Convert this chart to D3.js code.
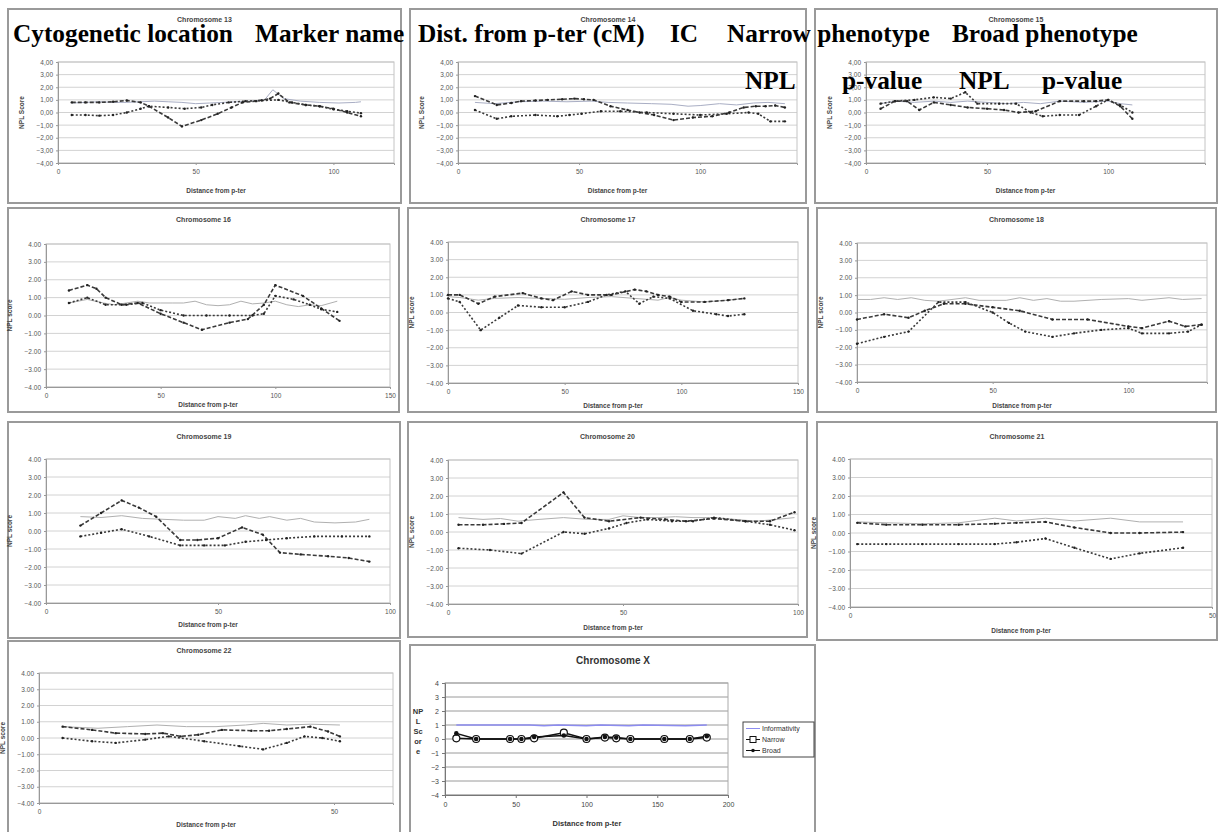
<!DOCTYPE html>
<html>
<head>
<meta charset="utf-8">
<script src="https://cdn.jsdelivr.net/npm/d3@7"></script>
<style>
  body { margin: 0; background: #fff; }
  svg { display: block; }
</style>
</head>
<body>
<div id="chart"></div>
<script>
// values: [distance from p-ter, NPL score]
const chr13Info   = [[5,0.75],[10,0.8],[15,0.85],[20,0.8],[25,0.8],[30,0.85],[35,0.9],[40,0.85],[45,0.8],[50,0.7],[55,0.75],[60,0.8],[65,0.85],[70,0.9],[75,1.0],[78,1.8],[82,1.1],[88,0.9],[95,0.8],[102,0.75],[108,0.8],[110,0.85]];
const chr13Narrow = [[5,0.8],[10,0.8],[15,0.8],[20,0.85],[25,0.95],[30,0.8],[33,0.5],[40,-0.4],[45,-1.1],[52,-0.6],[58,-0.1],[63,0.4],[67,0.8],[72,0.9],[77,1.1],[80,1.5],[84,0.8],[90,0.6],[95,0.5],[100,0.3],[105,0.0],[110,-0.3]];
const chr13Broad  = [[5,-0.2],[10,-0.2],[15,-0.25],[20,-0.2],[25,0.0],[30,0.3],[33,0.5],[40,0.4],[46,0.3],[52,0.4],[56,0.6],[62,0.8],[68,0.9],[74,0.95],[80,1.0],[85,0.8],[90,0.6],[95,0.5],[100,0.25],[105,0.1],[110,-0.05]];

const chr14Info   = [[7,0.8],[15,0.7],[25,0.85],[35,0.9],[45,0.85],[55,0.9],[62,0.8],[70,0.75],[80,0.7],[88,0.65],[95,0.5],[100,0.55],[108,0.7],[115,0.6],[122,0.75],[128,0.8],[135,0.7]];
const chr14Narrow = [[7,1.3],[16,0.6],[22,0.75],[26,0.9],[32,0.95],[37,1.0],[43,1.05],[48,1.1],[52,1.05],[56,1.0],[63,0.5],[70,0.2],[75,0.0],[81,-0.2],[89,-0.6],[97,-0.4],[105,-0.3],[112,0.0],[118,0.4],[123,0.5],[127,0.5],[131,0.55],[135,0.4]];
const chr14Broad  = [[7,0.2],[16,-0.5],[22,-0.3],[32,-0.2],[41,-0.3],[46,-0.2],[51,-0.1],[59,0.1],[67,0.1],[78,0.0],[89,-0.1],[100,-0.2],[111,-0.1],[120,0.0],[124,-0.1],[129,-0.7],[135,-0.7]];

const chr15Info   = [[6,0.7],[12,0.9],[20,0.8],[28,0.9],[35,0.8],[42,0.9],[50,0.8],[58,0.7],[65,0.8],[72,0.7],[80,0.9],[90,0.8],[100,0.9],[105,0.7],[110,0.6]];
const chr15Narrow = [[6,0.3],[12,0.9],[17,0.9],[22,0.2],[28,0.8],[35,0.6],[42,0.4],[50,0.3],[57,0.2],[63,0.0],[70,0.1],[80,0.9],[90,0.9],[95,0.9],[100,1.0],[105,0.5],[110,-0.5]];
const chr15Broad  = [[6,0.7],[12,0.9],[20,1.0],[28,1.2],[35,1.1],[41,1.6],[46,0.7],[55,0.7],[62,0.7],[68,0.0],[73,-0.3],[80,-0.2],[88,-0.2],[95,0.5],[100,1.0],[105,0.6],[110,0.0]];

const chr16Info   = [[10,0.7],[18,0.9],[25,0.7],[30,0.6],[35,0.7],[40,0.8],[45,0.7],[50,0.7],[55,0.7],[60,0.7],[65,0.8],[70,0.6],[75,0.55],[80,0.6],[85,0.8],[90,0.65],[95,0.7],[100,0.8],[105,0.6],[110,0.5],[115,0.6],[120,0.55],[127,0.8]];
const chr16Narrow = [[10,1.4],[18,1.7],[22,1.5],[26,1.0],[33,0.6],[40,0.7],[50,0.1],[60,-0.4],[68,-0.8],[80,-0.4],[88,-0.2],[95,0.6],[100,1.7],[112,1.1],[120,0.4],[128,-0.3]];
const chr16Broad  = [[10,0.7],[18,1.0],[26,0.6],[35,0.6],[42,0.7],[50,0.3],[60,0.0],[70,0.0],[80,0.0],[90,0.0],[95,0.1],[100,1.1],[108,0.9],[115,0.6],[120,0.35],[127,0.2]];

const chr17Info   = [[0,0.9],[5,0.85],[13,0.7],[20,0.8],[30,0.85],[40,0.8],[50,0.75],[60,0.85],[70,0.9],[80,0.8],[90,0.7],[95,0.85],[100,0.7],[110,0.6],[120,0.7],[127,0.8]];
const chr17Narrow = [[0,1.0],[5,1.0],[13,0.5],[20,0.9],[32,1.1],[40,0.8],[45,0.7],[53,1.2],[60,1.0],[70,1.0],[80,1.3],[85,1.2],[90,1.0],[95,0.9],[100,0.6],[110,0.6],[120,0.7],[127,0.8]];
const chr17Broad  = [[0,0.8],[5,0.6],[14,-1.0],[22,-0.3],[30,0.4],[40,0.3],[50,0.3],[60,0.6],[68,1.0],[76,1.2],[82,0.5],[88,0.9],[95,0.8],[105,0.1],[115,-0.1],[120,-0.2],[127,-0.1]];

const chr18Info   = [[0,0.75],[5,0.75],[10,0.85],[15,0.75],[20,0.85],[25,0.7],[30,0.65],[35,0.75],[40,0.85],[45,0.7],[50,0.7],[55,0.7],[60,0.85],[65,0.7],[70,0.8],[75,0.65],[80,0.65],[90,0.75],[100,0.8],[105,0.7],[115,0.85],[120,0.75],[127,0.8]];
const chr18Narrow = [[0,-0.4],[10,-0.1],[19,-0.3],[25,0.1],[32,0.5],[40,0.5],[50,0.3],[60,0.1],[72,-0.4],[85,-0.4],[100,-0.8],[105,-0.9],[115,-0.5],[121,-0.8],[127,-0.7]];
const chr18Broad  = [[0,-1.8],[10,-1.4],[19,-1.1],[30,0.6],[40,0.6],[50,0.0],[56,-0.6],[62,-1.1],[72,-1.4],[80,-1.2],[90,-1.0],[100,-0.9],[105,-1.2],[115,-1.2],[122,-1.1],[127,-0.7]];

const chr19Info   = [[10,0.8],[16,0.75],[22,0.85],[28,0.7],[34,0.65],[40,0.6],[46,0.6],[50,0.8],[55,0.7],[58,0.85],[62,0.7],[65,0.8],[70,0.6],[74,0.7],[78,0.5],[84,0.45],[90,0.5],[94,0.65]];
const chr19Narrow = [[10,0.3],[16,1.0],[22,1.7],[27,1.3],[32,0.8],[39,-0.5],[44,-0.5],[50,-0.4],[57,0.2],[63,-0.2],[68,-1.2],[74,-1.3],[82,-1.4],[88,-1.5],[94,-1.7]];
const chr19Broad  = [[10,-0.3],[16,-0.1],[22,0.1],[30,-0.3],[39,-0.8],[46,-0.8],[52,-0.8],[58,-0.6],[64,-0.5],[70,-0.4],[78,-0.3],[86,-0.3],[94,-0.3]];

const chr20Info   = [[3,0.8],[10,0.7],[15,0.75],[20,0.6],[26,0.7],[33,0.8],[40,0.7],[46,0.7],[50,0.9],[55,0.8],[60,0.8],[65,0.85],[70,0.8],[76,0.8],[82,0.7],[88,0.6],[94,0.7],[99,0.8]];
const chr20Narrow = [[3,0.4],[10,0.4],[16,0.45],[21,0.5],[33,2.2],[39,0.8],[46,0.6],[55,0.8],[62,0.7],[68,0.6],[76,0.75],[85,0.6],[92,0.6],[99,1.1]];
const chr20Broad  = [[3,-0.9],[12,-1.0],[21,-1.2],[33,0.0],[39,-0.1],[46,0.2],[51,0.5],[57,0.7],[64,0.6],[70,0.6],[76,0.8],[85,0.6],[92,0.4],[99,0.1]];

const chr21Info   = [[1,0.6],[5,0.55],[10,0.5],[15,0.55],[20,0.8],[23,0.65],[27,0.8],[31,0.65],[36,0.8],[40,0.6],[46,0.6]];
const chr21Narrow = [[1,0.55],[5,0.45],[10,0.45],[15,0.45],[20,0.5],[23,0.55],[27,0.6],[31,0.3],[36,0.0],[40,0.0],[46,0.05]];
const chr21Broad  = [[1,-0.6],[5,-0.6],[10,-0.6],[15,-0.6],[20,-0.6],[23,-0.5],[27,-0.3],[31,-0.8],[36,-1.4],[40,-1.1],[46,-0.8]];

const chr22Info   = [[4,0.7],[10,0.6],[15,0.7],[20,0.8],[25,0.7],[30,0.7],[35,0.8],[38,0.9],[42,0.8],[46,0.85],[51,0.8]];
const chr22Narrow = [[4,0.7],[9,0.5],[13,0.3],[18,0.25],[21,0.3],[24,0.1],[27,0.2],[31,0.5],[36,0.45],[39,0.45],[42,0.55],[46,0.7],[49,0.4],[51,0.1]];
const chr22Broad  = [[4,0.0],[9,-0.2],[13,-0.3],[18,-0.1],[22,0.1],[28,-0.2],[34,-0.5],[38,-0.7],[42,-0.3],[45,0.1],[48,0.0],[51,-0.2]];

const chrXInfo    = [[8,1.0],[60,1.0],[70,0.95],[80,1.0],[100,0.95],[110,1.0],[130,0.95],[140,1.0],[170,0.95],[185,1.0]];
const chrXNarrow  = [[8,0.05],[22,0],[46,0],[54,0],[63,0.05],[84,0.45],[100,0],[113,0.1],[121,0.05],[131,0],[155,0],[173,0],[185,0.1]];
const chrXBroad   = [[8,0.4],[22,0],[46,0],[54,0],[63,0.15],[84,0.25],[100,0],[113,0.15],[121,0.1],[131,0],[155,0],[173,0],[185,0.2]];

const yTicks = [-4,-3,-2,-1,0,1,2,3,4];
const legendLabels = ["Informativity", "Narrow", "Broad"];
const headerRow1 = ["Cytogenetic location", "Marker name", "Dist. from p-ter (cM)", "IC", "Narrow phenotype", "Broad phenotype"];
const headerRow2 = ["NPL", "p-value", "NPL", "p-value"];

let width = 1219, height = 832;

let svg = d3.select('#chart')
  .append('svg')
  .attr('width', width)
  .attr('height', height)
  .style('font-family', 'Liberation Sans, Arial, sans-serif');

// panel frames and plot areas (pixel layout)
let panels = [
  { title: 'Chromosome 13', box: [8, 9, 393, 194], plot: [58, 394, 62, 163], xMax: 122, xTicks: [0,50,100], comma: true, yTitle: 'NPL Score', info: chr13Info, narrow: chr13Narrow, broad: chr13Broad, infoColor: '#a9aec4', titleY: 22, xTitleY: 193 },
  { title: 'Chromosome 14', box: [410, 9, 396, 194], plot: [458, 797, 62, 163], xMax: 140, xTicks: [0,50,100], comma: true, yTitle: 'NPL Score', info: chr14Info, narrow: chr14Narrow, broad: chr14Broad, infoColor: '#a9aec4', titleY: 22, xTitleY: 193 },
  { title: 'Chromosome 15', box: [815, 9, 402, 194], plot: [866, 1205, 62, 163], xMax: 140, xTicks: [0,50,100], comma: true, yTitle: 'NPL Score', info: chr15Info, narrow: chr15Narrow, broad: chr15Broad, infoColor: '#a9aec4', titleY: 22, xTitleY: 193 },
  { title: 'Chromosome 16', box: [8, 208, 391, 204], plot: [46, 390, 244, 387], xMax: 150, xTicks: [0,50,100,150], yTitle: 'NPL score', info: chr16Info, narrow: chr16Narrow, broad: chr16Broad, titleY: 222, xTitleY: 407 },
  { title: 'Chromosome 17', box: [408, 208, 400, 204], plot: [448, 798, 242, 383], xMax: 150, xTicks: [0,50,100,150], yTitle: 'NPL score', info: chr17Info, narrow: chr17Narrow, broad: chr17Broad, titleY: 222, xTitleY: 408 },
  { title: 'Chromosome 18', box: [817, 208, 399, 204], plot: [857, 1207, 243, 382], xMax: 129, xTicks: [0,50,100], yTitle: 'NPL score', info: chr18Info, narrow: chr18Narrow, broad: chr18Broad, titleY: 222, xTitleY: 408 },
  { title: 'Chromosome 19', box: [8, 422, 392, 216], plot: [46, 390, 459, 603], xMax: 100, xTicks: [0,50,100], yTitle: 'NPL score', info: chr19Info, narrow: chr19Narrow, broad: chr19Broad, titleY: 439, xTitleY: 627 },
  { title: 'Chromosome 20', box: [408, 422, 399, 215], plot: [448, 798, 460, 604], xMax: 100, xTicks: [0,50,100], yTitle: 'NPL score', info: chr20Info, narrow: chr20Narrow, broad: chr20Broad, titleY: 439, xTitleY: 630 },
  { title: 'Chromosome 21', box: [817, 422, 400, 218], plot: [850, 1212, 459, 607], xMax: 50, xTicks: [0,50], yTitle: 'NPL score', info: chr21Info, narrow: chr21Narrow, broad: chr21Broad, titleY: 439, xTitleY: 633 },
  { title: 'Chromosome 22', box: [8, 641, 392, 200], plot: [39, 393, 673, 803], xMax: 60, xTicks: [0,50], yTitle: 'NPL score', info: chr22Info, narrow: chr22Narrow, broad: chr22Broad, titleY: 653, xTitleY: 827 }
];

function drawPanel(p) {
  let g = svg.append('g');
  let [bx, by, bw, bh] = p.box;
  let [left, right, top, bottom] = p.plot;

  g.append('rect')
    .attr('x', bx).attr('y', by).attr('width', bw).attr('height', bh)
    .attr('fill', '#fff').attr('stroke', '#9a9a9a').attr('stroke-width', 2);

  let xScale = d3.scaleLinear().domain([0, p.xMax]).range([left, right]);
  let yScale = d3.scaleLinear().domain([-4, 4]).range([bottom, top]);

  g.selectAll('.grid')
    .data(yTicks)
    .enter()
    .append('line')
    .attr('x1', left).attr('x2', right)
    .attr('y1', d => yScale(d)).attr('y2', d => yScale(d))
    .attr('stroke', '#d2d2d2').attr('stroke-width', 1);

  g.append('rect')
    .attr('x', left).attr('y', top).attr('width', right - left).attr('height', bottom - top)
    .attr('fill', 'none').attr('stroke', '#c4c4c4');

  let fmt = d3.format('.2f');
  let yAxis = d3.axisLeft(yScale)
    .tickValues(yTicks)
    .tickSize(2)
    .tickPadding(3)
    .tickFormat(d => p.comma ? fmt(d).replace('.', ',') : fmt(d));
  let xAxis = d3.axisBottom(xScale)
    .tickValues(p.xTicks)
    .tickSize(2)
    .tickPadding(4)
    .tickFormat(d3.format('d'));

  let ya = g.append('g').attr('transform', `translate(${left},0)`).call(yAxis);
  let xa = g.append('g').attr('transform', `translate(0,${bottom})`).call(xAxis);
  [ya, xa].forEach(a => {
    a.select('.domain').attr('stroke', '#999');
    a.selectAll('.tick line').attr('stroke', '#999');
    a.selectAll('text').attr('fill', '#555').style('font-size', '6.5px')
      .style('font-family', 'Liberation Sans, Arial, sans-serif');
  });

  g.append('text')
    .attr('x', bx + bw / 2).attr('y', p.titleY)
    .attr('text-anchor', 'middle')
    .style('font-size', '7px').style('font-weight', 'bold').attr('fill', '#444')
    .text(p.title);

  g.append('text')
    .attr('x', (left + right) / 2 - 10).attr('y', p.xTitleY)
    .attr('text-anchor', 'middle')
    .style('font-size', '6.5px').style('font-weight', 'bold').attr('fill', '#444')
    .text('Distance from p-ter');

  g.append('text')
    .attr('transform', `translate(${left - 34},${(top + bottom) / 2}) rotate(-90)`)
    .attr('text-anchor', 'middle')
    .style('font-size', '6.5px').style('font-weight', 'bold').attr('fill', '#444')
    .text(p.yTitle);

  let line = d3.line().x(d => xScale(d[0])).y(d => yScale(d[1]));

  g.append('path')
    .attr('d', line(p.info))
    .attr('fill', 'none').attr('stroke', p.infoColor || '#b0b0b0').attr('stroke-width', 1);

  g.append('path')
    .attr('d', line(p.narrow))
    .attr('fill', 'none').attr('stroke', '#3a3a3a').attr('stroke-width', 1.6)
    .attr('stroke-dasharray', '4,2');

  g.append('path')
    .attr('d', line(p.broad))
    .attr('fill', 'none').attr('stroke', '#3a3a3a').attr('stroke-width', 1.6)
    .attr('stroke-dasharray', '2,2');

  [p.narrow, p.broad].forEach(s => {
    g.selectAll(null)
      .data(s)
      .enter()
      .append('circle')
      .attr('cx', d => xScale(d[0])).attr('cy', d => yScale(d[1]))
      .attr('r', 1.2).attr('fill', '#222');
  });
}

panels.forEach(drawPanel);

// Chromosome X panel, different style with legend
(function () {
  let g = svg.append('g');
  let left = 445, right = 728, top = 683, bottom = 795;

  g.append('rect')
    .attr('x', 410).attr('y', 645).attr('width', 405).attr('height', 200)
    .attr('fill', '#fff').attr('stroke', '#9a9a9a').attr('stroke-width', 2);

  let xScale = d3.scaleLinear().domain([0, 200]).range([left, right]);
  let yScale = d3.scaleLinear().domain([-4, 4]).range([bottom, top]);

  g.selectAll('.grid')
    .data(yTicks)
    .enter()
    .append('line')
    .attr('x1', left).attr('x2', right)
    .attr('y1', d => yScale(d)).attr('y2', d => yScale(d))
    .attr('stroke', '#9a9a9a').attr('stroke-width', 1);

  g.append('rect')
    .attr('x', left).attr('y', top).attr('width', right - left).attr('height', bottom - top)
    .attr('fill', 'none').attr('stroke', '#aaa');

  let ya = g.append('g').attr('transform', `translate(${left},0)`)
    .call(d3.axisLeft(yScale).tickValues(yTicks).tickSize(3).tickPadding(3).tickFormat(d3.format('d')));
  let xa = g.append('g').attr('transform', `translate(0,${bottom})`)
    .call(d3.axisBottom(xScale).tickValues([0,50,100,150,200]).tickSize(3).tickPadding(4));
  [ya, xa].forEach(a => {
    a.select('.domain').attr('stroke', '#777');
    a.selectAll('.tick line').attr('stroke', '#777');
    a.selectAll('text').attr('fill', '#444').style('font-size', '7px')
      .style('font-family', 'Liberation Sans, Arial, sans-serif');
  });

  g.append('text')
    .attr('x', 613).attr('y', 664)
    .attr('text-anchor', 'middle')
    .style('font-size', '10px').style('font-weight', 'bold').attr('fill', '#333')
    .text('Chromosome X');

  g.append('text')
    .attr('x', 587).attr('y', 826)
    .attr('text-anchor', 'middle')
    .style('font-size', '7.5px').style('font-weight', 'bold').attr('fill', '#333')
    .text('Distance from p-ter');

  let yt = ['NP', 'L', 'Sc', 'or', 'e'];
  g.selectAll('.yt')
    .data(yt)
    .enter()
    .append('text')
    .attr('x', 418).attr('y', (d, i) => 714 + i * 10)
    .attr('text-anchor', 'middle')
    .style('font-size', '7.5px').style('font-weight', 'bold').attr('fill', '#333')
    .text(d => d);

  let line = d3.line().x(d => xScale(d[0])).y(d => yScale(d[1]));

  g.append('path').attr('d', line(chrXInfo))
    .attr('fill', 'none').attr('stroke', '#8c8cf0').attr('stroke-width', 1.5);
  g.append('path').attr('d', line(chrXNarrow))
    .attr('fill', 'none').attr('stroke', '#111').attr('stroke-width', 1.5);
  g.append('path').attr('d', line(chrXBroad))
    .attr('fill', 'none').attr('stroke', '#111').attr('stroke-width', 1.5);

  g.selectAll('.nm')
    .data(chrXNarrow)
    .enter()
    .append('circle')
    .attr('cx', d => xScale(d[0])).attr('cy', d => yScale(d[1]))
    .attr('r', 3.5).attr('fill', '#fff').attr('stroke', '#111').attr('stroke-width', 1.2);
  g.selectAll('.bm')
    .data(chrXBroad)
    .enter()
    .append('circle')
    .attr('cx', d => xScale(d[0])).attr('cy', d => yScale(d[1]))
    .attr('r', 2.3).attr('fill', '#111');

  // legend
  let lg = g.append('g').attr('transform', 'translate(743,722)');
  lg.append('rect').attr('width', 71).attr('height', 35)
    .attr('fill', '#fff').attr('stroke', '#444');
  lg.selectAll('text')
    .data(legendLabels)
    .enter()
    .append('text')
    .attr('x', 19).attr('y', (d, i) => 9 + i * 11)
    .style('font-size', '7px').attr('fill', '#333')
    .text(d => d);
  lg.selectAll('line')
    .data(legendLabels)
    .enter()
    .append('line')
    .attr('x1', 3).attr('x2', 17)
    .attr('y1', (d, i) => 6.5 + i * 11).attr('y2', (d, i) => 6.5 + i * 11)
    .attr('stroke', (d, i) => i === 0 ? '#8c8cf0' : '#111');
  lg.append('rect').attr('x', 7).attr('y', 14.5).attr('width', 6).attr('height', 6)
    .attr('fill', '#fff').attr('stroke', '#111');
  lg.append('circle').attr('cx', 10).attr('cy', 28.5).attr('r', 1.8).attr('fill', '#111');
})();

// table header pasted over the top row
let header = svg.append('g')
  .style('font-family', 'Liberation Serif, Times New Roman, serif')
  .style('font-weight', 'bold')
  .style('font-size', '25.3px')
  .attr('fill', '#000');

let row1X = [13, 255, 418, 670, 727, 952];
let row2X = [745, 842, 959, 1042];

header.selectAll('.h1')
  .data(headerRow1)
  .enter()
  .append('text')
  .attr('x', (d, i) => row1X[i]).attr('y', 42)
  .text(d => d);

header.selectAll('.h2')
  .data(headerRow2)
  .enter()
  .append('text')
  .attr('x', (d, i) => row2X[i]).attr('y', 89)
  .text(d => d);
</script>
</body>
</html>
